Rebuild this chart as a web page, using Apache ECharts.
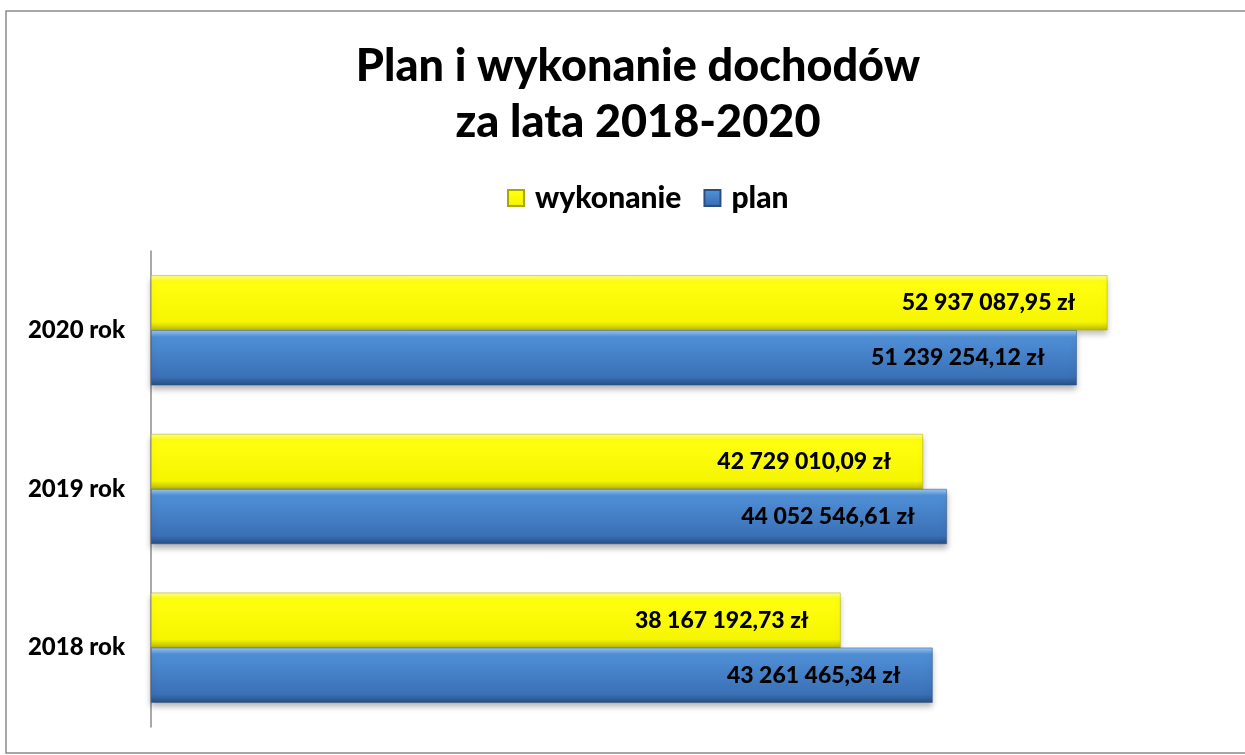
<!DOCTYPE html>
<html>
<head>
<meta charset="utf-8">
<script src="https://cdn.jsdelivr.net/npm/echarts@6/dist/echarts.min.js"></script>
<style>
  html, body { margin: 0; padding: 0; background: #fff; }
  #chart { width: 1245px; height: 755px; }
</style>
</head>
<body>
<div id="chart"></div>
<script>
// data
var years = ["2018 rok", "2019 rok", "2020 rok"];
var wykonanie = [38167192.73, 42729010.09, 52937087.95];
var plan = [43261465.34, 44052546.61, 51239254.12];

function zl(v) {
  var parts = v.toFixed(2).split(".");
  var ints = parts[0].replace(/\B(?=(\d{3})+(?!\d))/g, " ");
  return ints + "," + parts[1] + " zł";
}

var font = "Lato, 'Open Sans', sans-serif";

var yellowFill = new echarts.graphic.LinearGradient(0, 0, 0, 1, [
  { offset: 0, color: "#ffff9a" },
  { offset: 0.1, color: "#ffff10" },
  { offset: 0.85, color: "#f6f600" },
  { offset: 1, color: "#b9b900" }
]);
var blueFill = new echarts.graphic.LinearGradient(0, 0, 0, 1, [
  { offset: 0, color: "#9cc9f2" },
  { offset: 0.12, color: "#4f8fd6" },
  { offset: 0.85, color: "#3a70b6" },
  { offset: 1, color: "#264f82" }
]);

var labelStyle = {
  show: true,
  position: "insideRight",
  distance: 32,
  formatter: function (p) { return zl(p.value); },
  fontFamily: font, fontSize: 23, fontWeight: 900, color: "#000"
};

var chart = echarts.init(document.getElementById("chart"));
chart.setOption({
  animation: false,
  backgroundColor: "#fff",
  title: {
    text: "Plan i wykonanie dochodów\nza lata 2018-2020",
    left: 633,
    top: 33,
    textAlign: "center",
    textStyle: { fontFamily: font, fontSize: 45, fontWeight: 900, color: "#000", lineHeight: 56 }
  },
  legend: {
    data: ["wykonanie", "plan"],
    top: 178,
    left: 502,
    itemWidth: 16,
    itemHeight: 16,
    itemGap: 22,
    icon: "rect",
    textStyle: { fontFamily: font, fontSize: 30, fontWeight: 900, color: "#000", padding: [0, 0, 0, 6] }
  },
  grid: { left: 151, right: 10, top: 251, bottom: 28, containLabel: false },
  xAxis: {
    type: "value",
    min: 0,
    max: 60000000,
    axisLabel: { show: false },
    axisLine: { show: false },
    axisTick: { show: false },
    splitLine: { show: false }
  },
  yAxis: {
    type: "category",
    data: years,
    axisLine: { lineStyle: { color: "#8c8c8c", width: 1.5 } },
    axisTick: { show: false },
    axisLabel: { margin: 26, fontFamily: font, fontSize: 24, fontWeight: 900, color: "#000" }
  },
  series: [
    {
      name: "wykonanie",
      type: "bar",
      data: wykonanie,
      barWidth: 55,
      barGap: "0%",
      itemStyle: {
        color: yellowFill,
        borderColor: "#a8a800",
        borderWidth: 0.5,
        shadowBlur: 6,
        shadowOffsetY: 4,
        shadowColor: "rgba(0,0,0,0.25)"
      },
      label: labelStyle
    },
    {
      name: "plan",
      type: "bar",
      data: plan,
      barWidth: 55,
      barGap: "0%",
      itemStyle: {
        color: blueFill,
        borderColor: "#2a4f7e",
        borderWidth: 0.5,
        shadowBlur: 6,
        shadowOffsetY: 4,
        shadowColor: "rgba(0,0,0,0.3)"
      },
      label: labelStyle
    }
  ],
  graphic: [
    {
      type: "rect",
      shape: { x: 6, y: 11, width: 1260, height: 742 },
      style: { fill: "none", stroke: "#8a8a8a", lineWidth: 1.5 },
      silent: true
    }
  ]
});
</script>
</body>
</html>
